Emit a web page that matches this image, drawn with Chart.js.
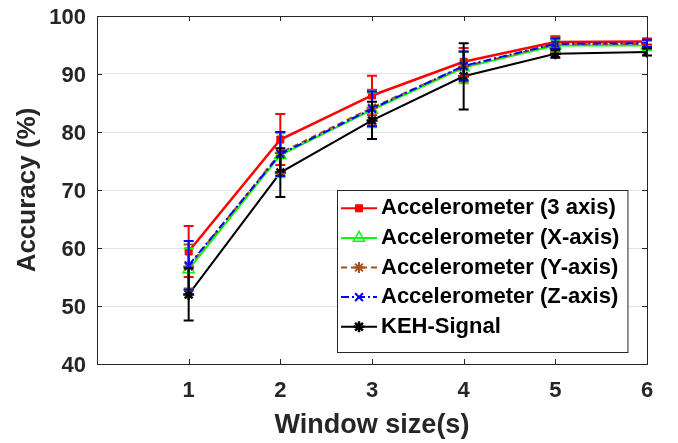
<!DOCTYPE html>
<html>
<head>
<meta charset="utf-8">
<script src="https://cdn.jsdelivr.net/npm/chart.js@4.4.0/dist/chart.umd.min.js"></script>
<style>
  html, body { margin: 0; padding: 0; background: #fff; }
  #wrap { width: 678px; height: 443px; }
</style>
</head>
<body>
<div id="wrap"><canvas id="accChart" width="678" height="443"></canvas></div>
<script>
// window size (s) and accuracy (%)
var windowSizes = [1, 2, 3, 4, 5, 6];
var yTicks = [40, 50, 60, 70, 80, 90, 100];

var acc3Axis = [59.4, 78.7, 86.3, 92.1, 95.5, 95.6];
var acc3AxisErr = [4.4, 4.4, 3.4, 2.4, 1.0, 0.5];
var accX = [56.3, 76.0, 83.8, 91.1, 94.9, 94.9];
var accXErr = [3.6, 3.8, 3.0, 2.7, 1.0, 0.8];
var accY = [56.8, 76.4, 84.2, 91.3, 95.1, 95.2];
var accYErr = [3.8, 3.6, 3.1, 2.6, 1.2, 0.7];
var accZ = [57.0, 76.2, 84.0, 91.4, 95.2, 95.3];
var accZErr = [4.2, 3.8, 3.0, 2.5, 0.9, 0.6];
var kehSignal = [52.0, 73.0, 82.0, 89.6, 93.5, 93.8];
var kehSignalErr = [4.5, 4.2, 3.2, 5.7, 0.7, 0.6];

var FONT = "'Liberation Sans', Arial, sans-serif";
var AXIS_COLOR = '#262626';

function toPoints(vals) {
    return vals.map(function (v, i) { return { x: windowSizes[i], y: v }; });
}

// vertical error bars with caps, drawn through the scales
var errorBars = {
    id: 'errorBars',
    afterDatasetsDraw: function (chart) {
        var ctx = chart.ctx, xs = chart.scales.x, ys = chart.scales.y;
        chart.data.datasets.forEach(function (ds) {
            ctx.save();
            ctx.strokeStyle = ds.borderColor;
            ctx.lineWidth = 2;
            ds.data.forEach(function (p, j) {
                var x = xs.getPixelForValue(p.x);
                var lo = ys.getPixelForValue(p.y - ds.errors[j]);
                var hi = ys.getPixelForValue(p.y + ds.errors[j]);
                ctx.beginPath();
                ctx.moveTo(x, lo); ctx.lineTo(x, hi);
                ctx.moveTo(x - 5, lo); ctx.lineTo(x + 5, lo);
                ctx.moveTo(x - 5, hi); ctx.lineTo(x + 5, hi);
                ctx.stroke();
            });
            ctx.restore();
        });
    }
};

// matlab style box with inward ticks
var axesBox = {
    id: 'axesBox',
    afterDraw: function (chart) {
        var ctx = chart.ctx, a = chart.chartArea, xs = chart.scales.x, ys = chart.scales.y;
        ctx.save();
        ctx.strokeStyle = AXIS_COLOR;
        ctx.lineWidth = 1;
        ctx.strokeRect(Math.round(a.left) + 0.5, Math.round(a.top) + 0.5,
            Math.round(a.right - a.left), Math.round(a.bottom - a.top));
        ctx.beginPath();
        windowSizes.forEach(function (w) {
            var x = Math.round(xs.getPixelForValue(w)) + 0.5;
            ctx.moveTo(x, a.bottom); ctx.lineTo(x, a.bottom - 5);
            ctx.moveTo(x, a.top); ctx.lineTo(x, a.top + 5);
        });
        yTicks.forEach(function (t) {
            var y = Math.round(ys.getPixelForValue(t)) + 0.5;
            ctx.moveTo(a.left, y); ctx.lineTo(a.left + 5, y);
            ctx.moveTo(a.right, y); ctx.lineTo(a.right - 5, y);
        });
        ctx.stroke();
        ctx.restore();
    }
};

function drawMarker(ctx, style, x, y, r) {
    ctx.beginPath();
    if (style === 'rect') {
        var s = r * Math.SQRT1_2;
        ctx.rect(x - s, y - s, 2 * s, 2 * s);
        ctx.fill();
        ctx.stroke();
    } else if (style === 'triangle') {
        ctx.moveTo(x, y - r);
        ctx.lineTo(x + r * 0.866, y + r * 0.5);
        ctx.lineTo(x - r * 0.866, y + r * 0.5);
        ctx.closePath();
        ctx.stroke();
    } else if (style === 'crossRot') {
        var d = r * Math.SQRT1_2;
        ctx.moveTo(x - d, y - d); ctx.lineTo(x + d, y + d);
        ctx.moveTo(x - d, y + d); ctx.lineTo(x + d, y - d);
        ctx.stroke();
    } else {
        for (var k = 0; k < 4; k++) {
            var ang = k * Math.PI / 4;
            ctx.moveTo(x - r * Math.cos(ang), y - r * Math.sin(ang));
            ctx.lineTo(x + r * Math.cos(ang), y + r * Math.sin(ang));
        }
        ctx.stroke();
    }
}

// legend box inside the plot, lower right
var boxLegend = {
    id: 'boxLegend',
    afterDraw: function (chart) {
        var ctx = chart.ctx;
        var left = 337, top = 190, rowH = 29.6;
        ctx.save();
        ctx.font = 'bold 22px ' + FONT;
        var maxW = 0;
        chart.data.datasets.forEach(function (ds) {
            maxW = Math.max(maxW, ctx.measureText(ds.label).width);
        });
        var w = 44 + maxW + 8;
        var h = chart.data.datasets.length * rowH + 14;
        ctx.fillStyle = '#fff';
        ctx.fillRect(left, top, w, h);
        ctx.strokeStyle = AXIS_COLOR;
        ctx.lineWidth = 1;
        ctx.strokeRect(left + 0.5, top + 0.5, w, h);
        chart.data.datasets.forEach(function (ds, i) {
            var y = top + 18.3 + i * rowH;
            ctx.strokeStyle = ds.borderColor;
            ctx.fillStyle = ds.borderColor;
            ctx.lineWidth = 2;
            ctx.setLineDash(ds.borderDash || []);
            ctx.beginPath();
            ctx.moveTo(left + 4, y);
            ctx.lineTo(left + 40, y);
            ctx.stroke();
            ctx.setLineDash([]);
            ctx.lineWidth = ds.pointBorderWidth;
            drawMarker(ctx, ds.pointStyle, left + 22, y, ds.pointRadius);
            ctx.fillStyle = '#000';
            ctx.textBaseline = 'middle';
            ctx.fillText(ds.label, left + 44, y);
        });
        ctx.restore();
    }
};

var ctx1 = document.getElementById('accChart').getContext('2d');
var accChart = new Chart(ctx1, {
    type: 'line',
    data: {
        datasets: [{
            label: 'Accelerometer (3 axis)',
            data: toPoints(acc3Axis),
            errors: acc3AxisErr,
            borderColor: '#ff0000',
            backgroundColor: '#ff0000',
            borderWidth: 2.5,
            pointStyle: 'rect',
            pointRadius: 5,
            pointBorderWidth: 1,
            order: 5
        }, {
            label: 'Accelerometer (X-axis)',
            data: toPoints(accX),
            errors: accXErr,
            borderColor: '#00ff00',
            backgroundColor: 'rgba(0,0,0,0)',
            borderWidth: 2,
            pointStyle: 'triangle',
            pointRadius: 6.5,
            pointBorderWidth: 1.5,
            order: 4
        }, {
            label: 'Accelerometer (Y-axis)',
            data: toPoints(accY),
            errors: accYErr,
            borderColor: '#a84f1c',
            backgroundColor: '#a84f1c',
            borderWidth: 2,
            borderDash: [6, 4],
            pointStyle: 'star',
            pointRadius: 5.5,
            pointBorderWidth: 2,
            order: 3
        }, {
            label: 'Accelerometer (Z-axis)',
            data: toPoints(accZ),
            errors: accZErr,
            borderColor: '#0000ff',
            backgroundColor: '#0000ff',
            borderWidth: 2,
            borderDash: [8, 3, 2, 3],
            pointStyle: 'crossRot',
            pointRadius: 5.5,
            pointBorderWidth: 2,
            order: 2
        }, {
            label: 'KEH-Signal',
            data: toPoints(kehSignal),
            errors: kehSignalErr,
            borderColor: '#000000',
            backgroundColor: '#000000',
            borderWidth: 2,
            pointStyle: 'star',
            pointRadius: 5.5,
            pointBorderWidth: 2.5,
            order: 1
        }]
    },
    options: {
        responsive: false,
        animation: false,
        layout: { padding: { top: 16, right: 31, left: 0, bottom: 0 } },
        plugins: {
            legend: { display: false },
            tooltip: { enabled: false }
        },
        scales: {
            x: {
                type: 'linear',
                min: 0,
                max: 6,
                afterFit: function (scale) { scale.height = 79; },
                grid: { display: false, drawTicks: false },
                border: { display: false },
                ticks: {
                    stepSize: 1,
                    padding: 14,
                    color: AXIS_COLOR,
                    font: { family: FONT, size: 22, weight: 'bold' },
                    callback: function (v) { return v === 0 ? null : v; }
                },
                title: {
                    display: true,
                    text: 'Window size(s)',
                    color: AXIS_COLOR,
                    padding: { top: 0, bottom: 1 },
                    font: { family: FONT, size: 27, weight: 'bold' }
                }
            },
            y: {
                min: 40,
                max: 100,
                afterFit: function (scale) { scale.width = 97; },
                grid: { color: '#e3e3e3', drawTicks: true, tickLength: 11, tickColor: 'rgba(0,0,0,0)' },
                border: { display: false },
                ticks: {
                    stepSize: 10,
                    padding: 0,
                    labelOffset: 2,
                    color: AXIS_COLOR,
                    font: { family: FONT, size: 22, weight: 'bold' }
                },
                title: {
                    display: true,
                    text: 'Accuracy (%)',
                    color: AXIS_COLOR,
                    padding: { top: 12, bottom: 0 },
                    font: { family: FONT, size: 26, weight: 'bold' }
                }
            }
        }
    },
    plugins: [errorBars, axesBox, boxLegend]
});
</script>
</body>
</html>
